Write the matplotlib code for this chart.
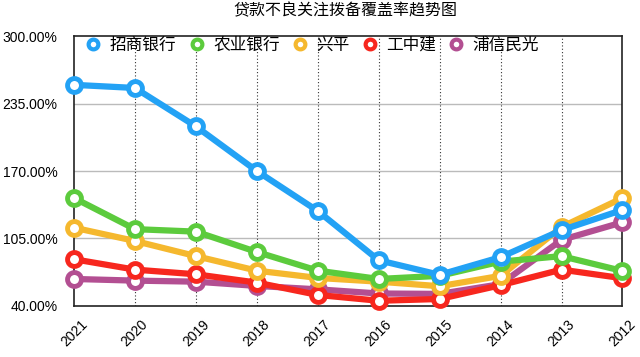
import matplotlib
matplotlib.use("Agg")
import matplotlib.pyplot as plt
from matplotlib.ticker import FuncFormatter

plt.rcParams['font.family'] = ['Liberation Sans', 'Noto Sans CJK SC', 'DejaVu Sans']

years = ["2021", "2020", "2019", "2018", "2017", "2016", "2015", "2014", "2013", "2012"]
zhaoshang = [253, 250, 213, 170, 131.5, 84, 70, 87, 113, 132.5]
nongye = [144, 114, 111.6, 92, 74, 66, 69, 82.7, 88, 73.7]
xingping = [115.4, 102.6, 88, 74, 67, 63.4, 59, 69, 116, 144]
gongzhongjian = [85, 75, 70.5, 62.5, 50.6, 45, 46.7, 60, 75, 66.7]
puxinminguang = [66, 64.4, 63.4, 59.3, 56, 52, 51.6, 61, 103.6, 120.6]

series = [
    ("招商银行", zhaoshang, "#23a2f5"),
    ("农业银行", nongye, "#5ccb3d"),
    ("兴平", xingping, "#f5b82e"),
    ("工中建", gongzhongjian, "#f7271e"),
    ("浦信民光", puxinminguang, "#b34f92"),
]

fig = plt.figure(figsize=(6.4, 3.57), dpi=100)
ax = fig.add_axes([0.1156, 0.143, 0.857, 0.756])

x = list(range(len(years)))
# draw from last to first so blue sits on top
for name, vals, color in reversed(series):
    ax.plot(x, vals, color=color, lw=4.5, marker="o", ms=10,
            markerfacecolor="white", markeredgecolor=color, markeredgewidth=3.5,
            label=name, zorder=3, clip_on=False)

ax.set_xlim(0, len(years) - 1)
ax.set_ylim(40, 300)
ax.set_yticks([40, 105, 170, 235, 300])
ax.yaxis.set_major_formatter(FuncFormatter(lambda v, p: f"{v:.2f}%"))
ax.set_xticks(x)
ax.set_xticklabels(years, rotation=45, ha="center")
ax.tick_params(length=0, labelsize=10)
ax.tick_params(axis="x", pad=8)
ax.tick_params(axis="y", pad=12)

for v in [105, 170, 235]:
    ax.axhline(v, color="#bbbbbb", lw=1, zorder=1)
for i in x[1:-1]:
    ax.axvline(i, color="#333333", lw=0.8, ls=(0, (1, 2)), zorder=1)

for s in ax.spines.values():
    s.set_color("#222222")
    s.set_linewidth(1.2)

handles, labels = ax.get_legend_handles_labels()
handles, labels = handles[::-1], labels[::-1]
leg_handles = [plt.Line2D([], [], ls="none", marker="o", ms=7, markerfacecolor="white",
                          markeredgecolor=h.get_color(), markeredgewidth=3) for h in handles]
ax.legend(leg_handles, labels, loc="center left", ncol=5, frameon=False,
          fontsize=12, handlelength=1.0, handletextpad=0.5, columnspacing=0.7,
          borderpad=0, borderaxespad=0,
          bbox_to_anchor=(85 / 640, 1 - 45 / 357), bbox_transform=fig.transFigure)

fig.text(345 / 640, 1 - 10 / 357, "贷款不良关注拨备覆盖率趋势图",
         ha="center", va="center", fontsize=11.5)

fig.savefig("out.png", dpi=100)
